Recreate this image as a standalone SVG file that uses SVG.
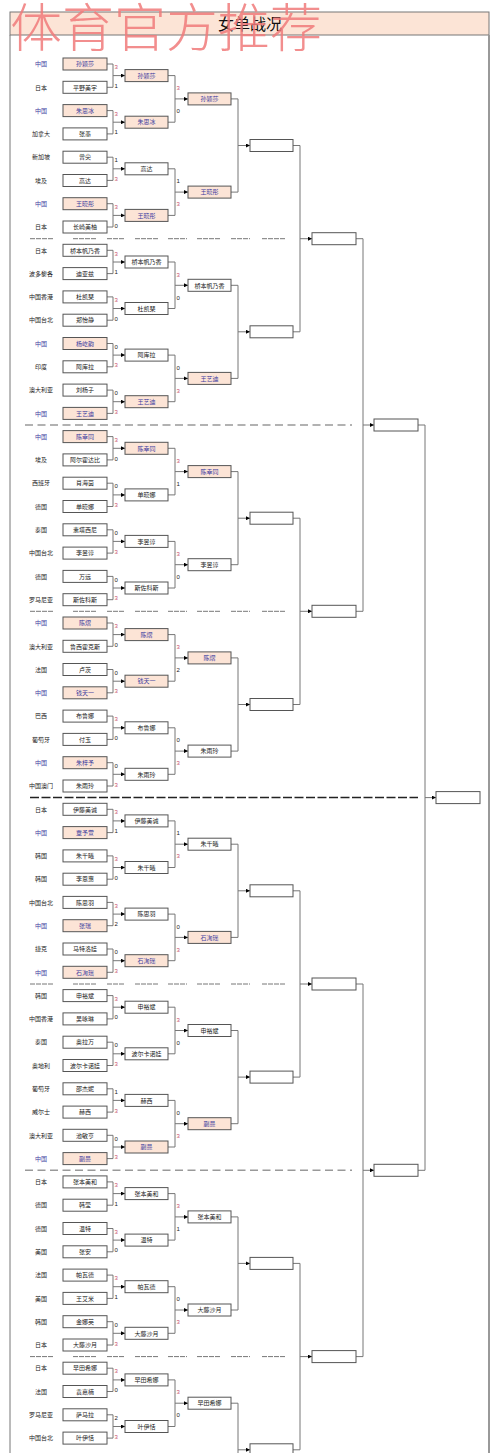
<svg xmlns="http://www.w3.org/2000/svg" width="500" height="1453" viewBox="0 0 500 1453">
<style>
.n rect{fill:#fff;stroke:#555;stroke-width:1}
.cn rect{fill:#fce4d6}
.n text{font-family:"Noto Sans CJK SC","Noto Sans",sans-serif;font-size:6px;text-anchor:middle;fill:#222}
.cn text{fill:#3c3ca0}
.ln{fill:none;stroke:#777;stroke-width:1;marker-end:url(#a)}
.sc text{font-family:"Liberation Sans",sans-serif;font-size:6px;fill:#222}
.sc .w{fill:#c8506e}
.d1{stroke:#777;stroke-width:1;stroke-dasharray:5,1}
.d2{stroke:#999;stroke-width:1.5;stroke-dasharray:8,4.5}
.d3{stroke:#222;stroke-width:1.5;stroke-dasharray:9,2.5}
</style>
<defs>
<marker id="a" markerWidth="4" markerHeight="4" refX="4" refY="2" orient="auto" markerUnits="userSpaceOnUse"><path d="M0,0L4,2L0,4z" fill="#000"/></marker>
</defs>
<rect width="500" height="1453" fill="#fff"/>
<g id="frame">
<rect x="10" y="12" width="479" height="23" fill="#fce4d6" stroke="#777" stroke-width="1"/>
<line x1="10" y1="35" x2="10" y2="1453" stroke="#777" stroke-width="1"/>
<line x1="489" y1="35" x2="489" y2="1453" stroke="#999" stroke-width="2"/>
<text x="250" y="30" text-anchor="middle" font-family="'Noto Sans CJK SC',serif" font-size="16" fill="#111">女单战况</text>
</g>
<g id="separators">
<g class="d1" id="sep1"><path d="M30 238.7H53M73 238.7H97M107 238.7H125M135 238.7H158M168 238.7H187M197 238.7H220M231 238.7H250M262 238.7H285"/></g>
<line class="d2" x1="25" y1="425" x2="352" y2="425"/>
<g class="d1" id="sep3"><path d="M30 611.3H53M73 611.3H97M107 611.3H125M135 611.3H158M168 611.3H187M197 611.3H220M231 611.3H250M262 611.3H285"/></g>
<line class="d3" x1="30" y1="797.6" x2="418" y2="797.6"/>
<g class="d1" id="sep5"><path d="M30 984H53M73 984H97M107 984H125M135 984H158M168 984H187M197 984H220M231 984H250M262 984H285"/></g>
<line class="d2" x1="25" y1="1170.3" x2="352" y2="1170.3"/>
<g class="d1" id="sep7"><path d="M30 1356.6H53M73 1356.6H97M107 1356.6H125M135 1356.6H158M168 1356.6H187M197 1356.6H220M231 1356.6H250M262 1356.6H285"/></g>
</g>
<g id="connectors">
<path class="ln" d="M107 64H113V87.3H107M113 75.6H125"/>
<path class="ln" d="M107 110.6H113V133.9H107M113 122.2H125"/>
<path class="ln" d="M107 157.2H113V180.4H107M113 168.8H125"/>
<path class="ln" d="M107 203.7H113V227H107M113 215.4H125"/>
<path class="ln" d="M107 250.3H113V273.6H107M113 262H125"/>
<path class="ln" d="M107 296.9H113V320.2H107M113 308.5H125"/>
<path class="ln" d="M107 343.5H113V366.8H107M113 355.1H125"/>
<path class="ln" d="M107 390.1H113V413.4H107M113 401.7H125"/>
<path class="ln" d="M107 436.6H113V459.9H107M113 448.3H125"/>
<path class="ln" d="M107 483.2H113V506.5H107M113 494.9H125"/>
<path class="ln" d="M107 529.8H113V553.1H107M113 541.4H125"/>
<path class="ln" d="M107 576.4H113V599.7H107M113 588H125"/>
<path class="ln" d="M107 623H113V646.3H107M113 634.6H125"/>
<path class="ln" d="M107 669.5H113V692.8H107M113 681.2H125"/>
<path class="ln" d="M107 716.1H113V739.4H107M113 727.8H125"/>
<path class="ln" d="M107 762.7H113V786H107M113 774.3H125"/>
<path class="ln" d="M107 809.3H113V832.6H107M113 820.9H125"/>
<path class="ln" d="M107 855.9H113V879.2H107M113 867.5H125"/>
<path class="ln" d="M107 902.4H113V925.7H107M113 914.1H125"/>
<path class="ln" d="M107 949H113V972.3H107M113 960.7H125"/>
<path class="ln" d="M107 995.6H113V1018.9H107M113 1007.2H125"/>
<path class="ln" d="M107 1042.2H113V1065.5H107M113 1053.8H125"/>
<path class="ln" d="M107 1088.8H113V1112.1H107M113 1100.4H125"/>
<path class="ln" d="M107 1135.3H113V1158.6H107M113 1147H125"/>
<path class="ln" d="M107 1181.9H113V1205.2H107M113 1193.6H125"/>
<path class="ln" d="M107 1228.5H113V1251.8H107M113 1240.1H125"/>
<path class="ln" d="M107 1275.1H113V1298.4H107M113 1286.7H125"/>
<path class="ln" d="M107 1321.7H113V1345H107M113 1333.3H125"/>
<path class="ln" d="M107 1368.2H113V1391.5H107M113 1379.9H125"/>
<path class="ln" d="M107 1414.8H113V1438.1H107M113 1426.5H125"/>
<path class="ln" d="M168 75.6H175V122.2H168M175 98.9H188"/>
<path class="ln" d="M168 168.8H175V215.4H168M175 192.1H188"/>
<path class="ln" d="M168 262H175V308.5H168M175 285.3H188"/>
<path class="ln" d="M168 355.1H175V401.7H168M175 378.4H188"/>
<path class="ln" d="M168 448.3H175V494.9H168M175 471.6H188"/>
<path class="ln" d="M168 541.4H175V588H168M175 564.7H188"/>
<path class="ln" d="M168 634.6H175V681.2H168M175 657.9H188"/>
<path class="ln" d="M168 727.8H175V774.3H168M175 751.1H188"/>
<path class="ln" d="M168 820.9H175V867.5H168M175 844.2H188"/>
<path class="ln" d="M168 914.1H175V960.7H168M175 937.4H188"/>
<path class="ln" d="M168 1007.2H175V1053.8H168M175 1030.5H188"/>
<path class="ln" d="M168 1100.4H175V1147H168M175 1123.7H188"/>
<path class="ln" d="M168 1193.6H175V1240.1H168M175 1216.9H188"/>
<path class="ln" d="M168 1286.7H175V1333.3H168M175 1310H188"/>
<path class="ln" d="M168 1379.9H175V1426.5H168M175 1403.2H188"/>
<path class="ln" d="M231 98.9H238V192.1H231M238 145.5H250"/>
<path class="ln" d="M231 285.3H238V378.4H231M238 331.8H250"/>
<path class="ln" d="M231 471.6H238V564.7H231M238 518.2H250"/>
<path class="ln" d="M231 657.9H238V751.1H231M238 704.5H250"/>
<path class="ln" d="M231 844.2H238V937.4H231M238 890.8H250"/>
<path class="ln" d="M231 1030.5H238V1123.7H231M238 1077.1H250"/>
<path class="ln" d="M231 1216.9H238V1310H231M238 1263.4H250"/>
<path class="ln" d="M231 1403.2H238V1496.3M238 1449.8H250"/>
<path class="ln" d="M293 145.5H300V331.8H293M300 238.7H312"/>
<path class="ln" d="M293 518.2H300V704.5H293M300 611.3H312"/>
<path class="ln" d="M293 890.8H300V1077.1H293M300 984H312"/>
<path class="ln" d="M293 1263.4H300V1449.8H293M300 1356.6H312"/>
<path class="ln" d="M356 238.7H363V611.3H356M363 425H374"/>
<path class="ln" d="M356 984H363V1356.6H356M363 1170.3H374"/>
<path class="ln" d="M418 425H425V1170.3H418M425 797.6H436"/>
</g>
<g id="scores" class="sc">
<text x="114.5" y="69.1" class="w">3</text><text x="114.5" y="87.8">1</text>
<text x="114.5" y="115.7" class="w">3</text><text x="114.5" y="134.4">1</text>
<text x="114.5" y="162.3">1</text><text x="114.5" y="181" class="w">3</text>
<text x="114.5" y="208.9" class="w">3</text><text x="114.5" y="227.6">0</text>
<text x="114.5" y="255.5" class="w">3</text><text x="114.5" y="274.2">1</text>
<text x="114.5" y="302" class="w">3</text><text x="114.5" y="320.7">0</text>
<text x="114.5" y="348.6">0</text><text x="114.5" y="367.3" class="w">3</text>
<text x="114.5" y="395.2">0</text><text x="114.5" y="413.9" class="w">3</text>
<text x="114.5" y="441.8" class="w">3</text><text x="114.5" y="460.5">0</text>
<text x="114.5" y="488.4">0</text><text x="114.5" y="507.1" class="w">3</text>
<text x="114.5" y="534.9">0</text><text x="114.5" y="553.6" class="w">3</text>
<text x="114.5" y="581.5">0</text><text x="114.5" y="600.2" class="w">3</text>
<text x="114.5" y="628.1" class="w">3</text><text x="114.5" y="646.8">0</text>
<text x="114.5" y="674.7">0</text><text x="114.5" y="693.4" class="w">3</text>
<text x="114.5" y="721.3" class="w">3</text><text x="114.5" y="740">0</text>
<text x="114.5" y="767.8">0</text><text x="114.5" y="786.5" class="w">3</text>
<text x="114.5" y="814.4" class="w">3</text><text x="114.5" y="833.1">1</text>
<text x="114.5" y="861" class="w">3</text><text x="114.5" y="879.7">0</text>
<text x="114.5" y="907.6" class="w">3</text><text x="114.5" y="926.3">2</text>
<text x="114.5" y="954.2">0</text><text x="114.5" y="972.9" class="w">3</text>
<text x="114.5" y="1000.7" class="w">3</text><text x="114.5" y="1019.4">0</text>
<text x="114.5" y="1047.3">0</text><text x="114.5" y="1066" class="w">3</text>
<text x="114.5" y="1093.9">1</text><text x="114.5" y="1112.6" class="w">3</text>
<text x="114.5" y="1140.5">0</text><text x="114.5" y="1159.2" class="w">3</text>
<text x="114.5" y="1187.1" class="w">3</text><text x="114.5" y="1205.8">1</text>
<text x="114.5" y="1233.6" class="w">3</text><text x="114.5" y="1252.3">0</text>
<text x="114.5" y="1280.2" class="w">3</text><text x="114.5" y="1298.9">1</text>
<text x="114.5" y="1326.8">0</text><text x="114.5" y="1345.5" class="w">3</text>
<text x="114.5" y="1373.4" class="w">3</text><text x="114.5" y="1392.1">0</text>
<text x="114.5" y="1420">2</text><text x="114.5" y="1438.7" class="w">3</text>
<text x="176.5" y="90.1" class="w">3</text><text x="176.5" y="113.1">0</text>
<text x="176.5" y="183.3">1</text><text x="176.5" y="206.3" class="w">3</text>
<text x="176.5" y="276.5" class="w">3</text><text x="176.5" y="299.5">0</text>
<text x="176.5" y="369.6">0</text><text x="176.5" y="392.6" class="w">3</text>
<text x="176.5" y="462.8" class="w">3</text><text x="176.5" y="485.8">1</text>
<text x="176.5" y="555.9" class="w">3</text><text x="176.5" y="578.9">0</text>
<text x="176.5" y="649.1" class="w">3</text><text x="176.5" y="672.1">2</text>
<text x="176.5" y="742.3">0</text><text x="176.5" y="765.3" class="w">3</text>
<text x="176.5" y="835.4">1</text><text x="176.5" y="858.4" class="w">3</text>
<text x="176.5" y="928.6">0</text><text x="176.5" y="951.6" class="w">3</text>
<text x="176.5" y="1021.7" class="w">3</text><text x="176.5" y="1044.7">0</text>
<text x="176.5" y="1114.9">0</text><text x="176.5" y="1137.9" class="w">3</text>
<text x="176.5" y="1208.1" class="w">3</text><text x="176.5" y="1231.1">1</text>
<text x="176.5" y="1301.2">0</text><text x="176.5" y="1324.2" class="w">3</text>
<text x="176.5" y="1394.4" class="w">3</text><text x="176.5" y="1417.4">0</text>
</g>
<g id="round1">
<g id="p00" class="n cn" transform="translate(63 58)"><rect width="44" height="12"/><text x="22" y="8.3">孙颖莎</text><text x="-22" y="8.3">中国</text></g>
<g id="p01" class="n" transform="translate(63 81.3)"><rect width="44" height="12"/><text x="22" y="8.3">平野美宇</text><text x="-22" y="8.3">日本</text></g>
<g id="p02" class="n cn" transform="translate(63 104.6)"><rect width="44" height="12"/><text x="22" y="8.3">朱思冰</text><text x="-22" y="8.3">中国</text></g>
<g id="p03" class="n" transform="translate(63 127.9)"><rect width="44" height="12"/><text x="22" y="8.3">张墨</text><text x="-22" y="8.3">加拿大</text></g>
<g id="p04" class="n" transform="translate(63 151.2)"><rect width="44" height="12"/><text x="22" y="8.3">曾尖</text><text x="-22" y="8.3">新加坡</text></g>
<g id="p05" class="n" transform="translate(63 174.5)"><rect width="44" height="12"/><text x="22" y="8.3">高达</text><text x="-22" y="8.3">埃及</text></g>
<g id="p06" class="n cn" transform="translate(63 197.7)"><rect width="44" height="12"/><text x="22" y="8.3">王晓彤</text><text x="-22" y="8.3">中国</text></g>
<g id="p07" class="n" transform="translate(63 221)"><rect width="44" height="12"/><text x="22" y="8.3">长崎美柚</text><text x="-22" y="8.3">日本</text></g>
<g id="p08" class="n" transform="translate(63 244.3)"><rect width="44" height="12"/><text x="22" y="8.3">桥本帆乃香</text><text x="-22" y="8.3">日本</text></g>
<g id="p09" class="n" transform="translate(63 267.6)"><rect width="44" height="12"/><text x="22" y="8.3">迪亚兹</text><text x="-22" y="8.3">波多黎各</text></g>
<g id="p10" class="n" transform="translate(63 290.9)"><rect width="44" height="12"/><text x="22" y="8.3">杜凯琹</text><text x="-22" y="8.3">中国香港</text></g>
<g id="p11" class="n" transform="translate(63 314.2)"><rect width="44" height="12"/><text x="22" y="8.3">郑怡静</text><text x="-22" y="8.3">中国台北</text></g>
<g id="p12" class="n cn" transform="translate(63 337.5)"><rect width="44" height="12"/><text x="22" y="8.3">杨屹韵</text><text x="-22" y="8.3">中国</text></g>
<g id="p13" class="n" transform="translate(63 360.8)"><rect width="44" height="12"/><text x="22" y="8.3">阿库拉</text><text x="-22" y="8.3">印度</text></g>
<g id="p14" class="n" transform="translate(63 384.1)"><rect width="44" height="12"/><text x="22" y="8.3">刘杨子</text><text x="-22" y="8.3">澳大利亚</text></g>
<g id="p15" class="n cn" transform="translate(63 407.4)"><rect width="44" height="12"/><text x="22" y="8.3">王艺迪</text><text x="-22" y="8.3">中国</text></g>
<g id="p16" class="n cn" transform="translate(63 430.6)"><rect width="44" height="12"/><text x="22" y="8.3">陈幸同</text><text x="-22" y="8.3">中国</text></g>
<g id="p17" class="n" transform="translate(63 453.9)"><rect width="44" height="12"/><text x="22" y="8.3">阿尔霍达比</text><text x="-22" y="8.3">埃及</text></g>
<g id="p18" class="n" transform="translate(63 477.2)"><rect width="44" height="12"/><text x="22" y="8.3">肖海茵</text><text x="-22" y="8.3">西班牙</text></g>
<g id="p19" class="n" transform="translate(63 500.5)"><rect width="44" height="12"/><text x="22" y="8.3">单晓娜</text><text x="-22" y="8.3">德国</text></g>
<g id="p20" class="n" transform="translate(63 523.8)"><rect width="44" height="12"/><text x="22" y="8.3">素塔西尼</text><text x="-22" y="8.3">泰国</text></g>
<g id="p21" class="n" transform="translate(63 547.1)"><rect width="44" height="12"/><text x="22" y="8.3">李昱谆</text><text x="-22" y="8.3">中国台北</text></g>
<g id="p22" class="n" transform="translate(63 570.4)"><rect width="44" height="12"/><text x="22" y="8.3">万远</text><text x="-22" y="8.3">德国</text></g>
<g id="p23" class="n" transform="translate(63 593.7)"><rect width="44" height="12"/><text x="22" y="8.3">斯佐科斯</text><text x="-22" y="8.3">罗马尼亚</text></g>
<g id="p24" class="n cn" transform="translate(63 617)"><rect width="44" height="12"/><text x="22" y="8.3">陈熠</text><text x="-22" y="8.3">中国</text></g>
<g id="p25" class="n" transform="translate(63 640.3)"><rect width="44" height="12"/><text x="22" y="8.3">鲁西霍克斯</text><text x="-22" y="8.3">澳大利亚</text></g>
<g id="p26" class="n" transform="translate(63 663.5)"><rect width="44" height="12"/><text x="22" y="8.3">卢茨</text><text x="-22" y="8.3">法国</text></g>
<g id="p27" class="n cn" transform="translate(63 686.8)"><rect width="44" height="12"/><text x="22" y="8.3">钱天一</text><text x="-22" y="8.3">中国</text></g>
<g id="p28" class="n" transform="translate(63 710.1)"><rect width="44" height="12"/><text x="22" y="8.3">布鲁娜</text><text x="-22" y="8.3">巴西</text></g>
<g id="p29" class="n" transform="translate(63 733.4)"><rect width="44" height="12"/><text x="22" y="8.3">付玉</text><text x="-22" y="8.3">葡萄牙</text></g>
<g id="p30" class="n cn" transform="translate(63 756.7)"><rect width="44" height="12"/><text x="22" y="8.3">朱梓予</text><text x="-22" y="8.3">中国</text></g>
<g id="p31" class="n" transform="translate(63 780)"><rect width="44" height="12"/><text x="22" y="8.3">朱雨玲</text><text x="-22" y="8.3">中国澳门</text></g>
<g id="p32" class="n" transform="translate(63 803.3)"><rect width="44" height="12"/><text x="22" y="8.3">伊藤美诚</text><text x="-22" y="8.3">日本</text></g>
<g id="p33" class="n cn" transform="translate(63 826.6)"><rect width="44" height="12"/><text x="22" y="8.3">覃予萱</text><text x="-22" y="8.3">中国</text></g>
<g id="p34" class="n" transform="translate(63 849.9)"><rect width="44" height="12"/><text x="22" y="8.3">朱千曦</text><text x="-22" y="8.3">韩国</text></g>
<g id="p35" class="n" transform="translate(63 873.2)"><rect width="44" height="12"/><text x="22" y="8.3">李恩惠</text><text x="-22" y="8.3">韩国</text></g>
<g id="p36" class="n" transform="translate(63 896.4)"><rect width="44" height="12"/><text x="22" y="8.3">陈思羽</text><text x="-22" y="8.3">中国台北</text></g>
<g id="p37" class="n cn" transform="translate(63 919.7)"><rect width="44" height="12"/><text x="22" y="8.3">张瑞</text><text x="-22" y="8.3">中国</text></g>
<g id="p38" class="n" transform="translate(63 943)"><rect width="44" height="12"/><text x="22" y="8.3">马特洛娃</text><text x="-22" y="8.3">捷克</text></g>
<g id="p39" class="n cn" transform="translate(63 966.3)"><rect width="44" height="12"/><text x="22" y="8.3">石洵瑶</text><text x="-22" y="8.3">中国</text></g>
<g id="p40" class="n" transform="translate(63 989.6)"><rect width="44" height="12"/><text x="22" y="8.3">申裕斌</text><text x="-22" y="8.3">韩国</text></g>
<g id="p41" class="n" transform="translate(63 1012.9)"><rect width="44" height="12"/><text x="22" y="8.3">吴咏琳</text><text x="-22" y="8.3">中国香港</text></g>
<g id="p42" class="n" transform="translate(63 1036.2)"><rect width="44" height="12"/><text x="22" y="8.3">奥拉万</text><text x="-22" y="8.3">泰国</text></g>
<g id="p43" class="n" transform="translate(63 1059.5)"><rect width="44" height="12"/><text x="22" y="8.3">波尔卡诺娃</text><text x="-22" y="8.3">奥地利</text></g>
<g id="p44" class="n" transform="translate(63 1082.8)"><rect width="44" height="12"/><text x="22" y="8.3">邵杰妮</text><text x="-22" y="8.3">葡萄牙</text></g>
<g id="p45" class="n" transform="translate(63 1106.1)"><rect width="44" height="12"/><text x="22" y="8.3">赫西</text><text x="-22" y="8.3">威尔士</text></g>
<g id="p46" class="n" transform="translate(63 1129.3)"><rect width="44" height="12"/><text x="22" y="8.3">池敏亨</text><text x="-22" y="8.3">澳大利亚</text></g>
<g id="p47" class="n cn" transform="translate(63 1152.6)"><rect width="44" height="12"/><text x="22" y="8.3">蒯曼</text><text x="-22" y="8.3">中国</text></g>
<g id="p48" class="n" transform="translate(63 1175.9)"><rect width="44" height="12"/><text x="22" y="8.3">张本美和</text><text x="-22" y="8.3">日本</text></g>
<g id="p49" class="n" transform="translate(63 1199.2)"><rect width="44" height="12"/><text x="22" y="8.3">韩莹</text><text x="-22" y="8.3">德国</text></g>
<g id="p50" class="n" transform="translate(63 1222.5)"><rect width="44" height="12"/><text x="22" y="8.3">温特</text><text x="-22" y="8.3">德国</text></g>
<g id="p51" class="n" transform="translate(63 1245.8)"><rect width="44" height="12"/><text x="22" y="8.3">张安</text><text x="-22" y="8.3">美国</text></g>
<g id="p52" class="n" transform="translate(63 1269.1)"><rect width="44" height="12"/><text x="22" y="8.3">帕瓦德</text><text x="-22" y="8.3">法国</text></g>
<g id="p53" class="n" transform="translate(63 1292.4)"><rect width="44" height="12"/><text x="22" y="8.3">王艾米</text><text x="-22" y="8.3">美国</text></g>
<g id="p54" class="n" transform="translate(63 1315.7)"><rect width="44" height="12"/><text x="22" y="8.3">金娜英</text><text x="-22" y="8.3">韩国</text></g>
<g id="p55" class="n" transform="translate(63 1339)"><rect width="44" height="12"/><text x="22" y="8.3">大藤沙月</text><text x="-22" y="8.3">日本</text></g>
<g id="p56" class="n" transform="translate(63 1362.2)"><rect width="44" height="12"/><text x="22" y="8.3">早田希娜</text><text x="-22" y="8.3">日本</text></g>
<g id="p57" class="n" transform="translate(63 1385.5)"><rect width="44" height="12"/><text x="22" y="8.3">袁嘉楠</text><text x="-22" y="8.3">法国</text></g>
<g id="p58" class="n" transform="translate(63 1408.8)"><rect width="44" height="12"/><text x="22" y="8.3">萨马拉</text><text x="-22" y="8.3">罗马尼亚</text></g>
<g id="p59" class="n" transform="translate(63 1432.1)"><rect width="44" height="12"/><text x="22" y="8.3">叶伊恬</text><text x="-22" y="8.3">中国台北</text></g>
</g>
<g id="round2">
<g id="r2-00" class="n cn" transform="translate(125 69.6)"><rect width="43" height="12"/><text x="21.5" y="8.3">孙颖莎</text></g>
<g id="r2-01" class="n cn" transform="translate(125 116.2)"><rect width="43" height="12"/><text x="21.5" y="8.3">朱思冰</text></g>
<g id="r2-02" class="n" transform="translate(125 162.8)"><rect width="43" height="12"/><text x="21.5" y="8.3">高达</text></g>
<g id="r2-03" class="n cn" transform="translate(125 209.4)"><rect width="43" height="12"/><text x="21.5" y="8.3">王晓彤</text></g>
<g id="r2-04" class="n" transform="translate(125 256)"><rect width="43" height="12"/><text x="21.5" y="8.3">桥本帆乃香</text></g>
<g id="r2-05" class="n" transform="translate(125 302.5)"><rect width="43" height="12"/><text x="21.5" y="8.3">杜凯琹</text></g>
<g id="r2-06" class="n" transform="translate(125 349.1)"><rect width="43" height="12"/><text x="21.5" y="8.3">阿库拉</text></g>
<g id="r2-07" class="n cn" transform="translate(125 395.7)"><rect width="43" height="12"/><text x="21.5" y="8.3">王艺迪</text></g>
<g id="r2-08" class="n cn" transform="translate(125 442.3)"><rect width="43" height="12"/><text x="21.5" y="8.3">陈幸同</text></g>
<g id="r2-09" class="n" transform="translate(125 488.9)"><rect width="43" height="12"/><text x="21.5" y="8.3">单晓娜</text></g>
<g id="r2-10" class="n" transform="translate(125 535.4)"><rect width="43" height="12"/><text x="21.5" y="8.3">李昱谆</text></g>
<g id="r2-11" class="n" transform="translate(125 582)"><rect width="43" height="12"/><text x="21.5" y="8.3">斯佐科斯</text></g>
<g id="r2-12" class="n cn" transform="translate(125 628.6)"><rect width="43" height="12"/><text x="21.5" y="8.3">陈熠</text></g>
<g id="r2-13" class="n cn" transform="translate(125 675.2)"><rect width="43" height="12"/><text x="21.5" y="8.3">钱天一</text></g>
<g id="r2-14" class="n" transform="translate(125 721.8)"><rect width="43" height="12"/><text x="21.5" y="8.3">布鲁娜</text></g>
<g id="r2-15" class="n" transform="translate(125 768.3)"><rect width="43" height="12"/><text x="21.5" y="8.3">朱雨玲</text></g>
<g id="r2-16" class="n" transform="translate(125 814.9)"><rect width="43" height="12"/><text x="21.5" y="8.3">伊藤美诚</text></g>
<g id="r2-17" class="n" transform="translate(125 861.5)"><rect width="43" height="12"/><text x="21.5" y="8.3">朱千曦</text></g>
<g id="r2-18" class="n" transform="translate(125 908.1)"><rect width="43" height="12"/><text x="21.5" y="8.3">陈思羽</text></g>
<g id="r2-19" class="n cn" transform="translate(125 954.7)"><rect width="43" height="12"/><text x="21.5" y="8.3">石洵瑶</text></g>
<g id="r2-20" class="n" transform="translate(125 1001.2)"><rect width="43" height="12"/><text x="21.5" y="8.3">申裕斌</text></g>
<g id="r2-21" class="n" transform="translate(125 1047.8)"><rect width="43" height="12"/><text x="21.5" y="8.3">波尔卡诺娃</text></g>
<g id="r2-22" class="n" transform="translate(125 1094.4)"><rect width="43" height="12"/><text x="21.5" y="8.3">赫西</text></g>
<g id="r2-23" class="n cn" transform="translate(125 1141)"><rect width="43" height="12"/><text x="21.5" y="8.3">蒯曼</text></g>
<g id="r2-24" class="n" transform="translate(125 1187.6)"><rect width="43" height="12"/><text x="21.5" y="8.3">张本美和</text></g>
<g id="r2-25" class="n" transform="translate(125 1234.1)"><rect width="43" height="12"/><text x="21.5" y="8.3">温特</text></g>
<g id="r2-26" class="n" transform="translate(125 1280.7)"><rect width="43" height="12"/><text x="21.5" y="8.3">帕瓦德</text></g>
<g id="r2-27" class="n" transform="translate(125 1327.3)"><rect width="43" height="12"/><text x="21.5" y="8.3">大藤沙月</text></g>
<g id="r2-28" class="n" transform="translate(125 1373.9)"><rect width="43" height="12"/><text x="21.5" y="8.3">早田希娜</text></g>
<g id="r2-29" class="n" transform="translate(125 1420.5)"><rect width="43" height="12"/><text x="21.5" y="8.3">叶伊恬</text></g>
</g>
<g id="round3">
<g id="r3-00" class="n cn" transform="translate(188 92.9)"><rect width="43" height="12"/><text x="21.5" y="8.3">孙颖莎</text></g>
<g id="r3-01" class="n cn" transform="translate(188 186.1)"><rect width="43" height="12"/><text x="21.5" y="8.3">王晓彤</text></g>
<g id="r3-02" class="n" transform="translate(188 279.3)"><rect width="43" height="12"/><text x="21.5" y="8.3">桥本帆乃香</text></g>
<g id="r3-03" class="n cn" transform="translate(188 372.4)"><rect width="43" height="12"/><text x="21.5" y="8.3">王艺迪</text></g>
<g id="r3-04" class="n cn" transform="translate(188 465.6)"><rect width="43" height="12"/><text x="21.5" y="8.3">陈幸同</text></g>
<g id="r3-05" class="n" transform="translate(188 558.7)"><rect width="43" height="12"/><text x="21.5" y="8.3">李昱谆</text></g>
<g id="r3-06" class="n cn" transform="translate(188 651.9)"><rect width="43" height="12"/><text x="21.5" y="8.3">陈熠</text></g>
<g id="r3-07" class="n" transform="translate(188 745.1)"><rect width="43" height="12"/><text x="21.5" y="8.3">朱雨玲</text></g>
<g id="r3-08" class="n" transform="translate(188 838.2)"><rect width="43" height="12"/><text x="21.5" y="8.3">朱千曦</text></g>
<g id="r3-09" class="n cn" transform="translate(188 931.4)"><rect width="43" height="12"/><text x="21.5" y="8.3">石洵瑶</text></g>
<g id="r3-10" class="n" transform="translate(188 1024.5)"><rect width="43" height="12"/><text x="21.5" y="8.3">申裕斌</text></g>
<g id="r3-11" class="n cn" transform="translate(188 1117.7)"><rect width="43" height="12"/><text x="21.5" y="8.3">蒯曼</text></g>
<g id="r3-12" class="n" transform="translate(188 1210.9)"><rect width="43" height="12"/><text x="21.5" y="8.3">张本美和</text></g>
<g id="r3-13" class="n" transform="translate(188 1304)"><rect width="43" height="12"/><text x="21.5" y="8.3">大藤沙月</text></g>
<g id="r3-14" class="n" transform="translate(188 1397.2)"><rect width="43" height="12"/><text x="21.5" y="8.3">早田希娜</text></g>
</g>
<g id="round4">
<g id="r4-0" class="n" transform="translate(250 139.5)"><rect width="43" height="12"/></g>
<g id="r4-1" class="n" transform="translate(250 325.8)"><rect width="43" height="12"/></g>
<g id="r4-2" class="n" transform="translate(250 512.2)"><rect width="43" height="12"/></g>
<g id="r4-3" class="n" transform="translate(250 698.5)"><rect width="43" height="12"/></g>
<g id="r4-4" class="n" transform="translate(250 884.8)"><rect width="43" height="12"/></g>
<g id="r4-5" class="n" transform="translate(250 1071.1)"><rect width="43" height="12"/></g>
<g id="r4-6" class="n" transform="translate(250 1257.4)"><rect width="43" height="12"/></g>
<g id="r4-7" class="n" transform="translate(250 1443.8)"><rect width="43" height="12"/></g>
</g>
<g id="round5">
<g id="r5-0" class="n" transform="translate(312 232.7)"><rect width="44" height="12"/></g>
<g id="r5-1" class="n" transform="translate(312 605.3)"><rect width="44" height="12"/></g>
<g id="r5-2" class="n" transform="translate(312 978)"><rect width="44" height="12"/></g>
<g id="r5-3" class="n" transform="translate(312 1350.6)"><rect width="44" height="12"/></g>
</g>
<g id="round6">
<g id="r6-0" class="n" transform="translate(374 419)"><rect width="44" height="12"/></g>
<g id="r6-1" class="n" transform="translate(374 1164.3)"><rect width="44" height="12"/></g>
</g>
<g id="final">
<g id="r7-0" class="n" transform="translate(436 791.6)"><rect width="44" height="12"/></g>
</g>
<text id="watermark" x="10" y="47" font-family="'Noto Sans CJK SC',serif" font-size="52" font-weight="300" fill="#f07a7a" fill-opacity="0.85">体育官方推荐</text>
</svg>
